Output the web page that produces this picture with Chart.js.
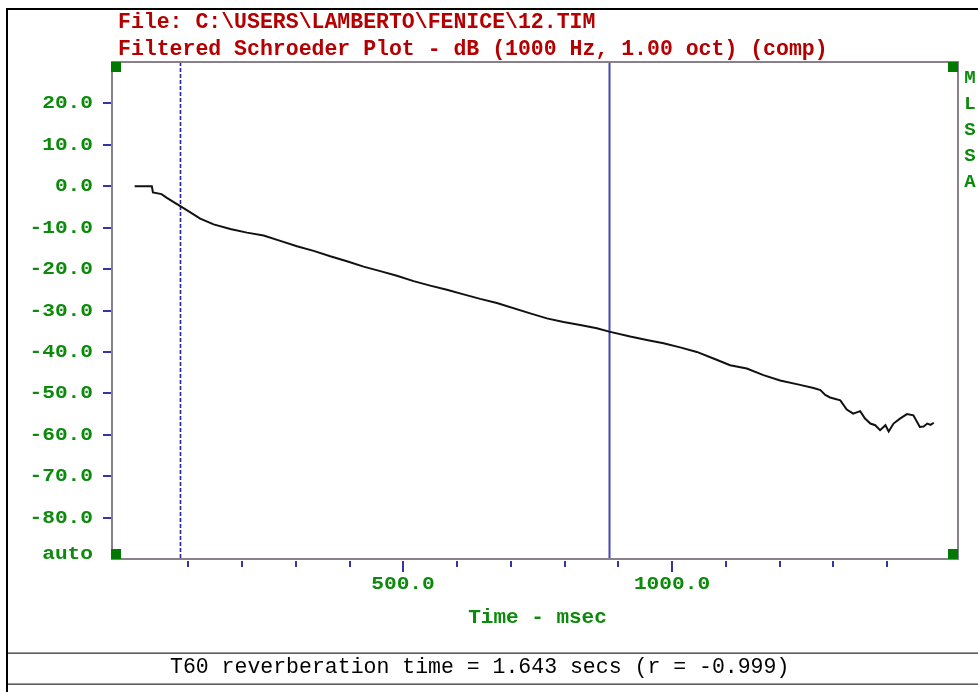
<!DOCTYPE html>
<html>
<head>
<meta charset="utf-8">
<script src="https://cdn.jsdelivr.net/npm/chart.js@4"></script>
<style>
html,body{margin:0;padding:0;background:#fff;}
#wrap{position:relative;width:978px;height:692px;}
canvas{display:block;}
</style>
</head>
<body>
<div id="wrap"><canvas id="c" width="978" height="692"></canvas></div>
<script>
// ---- data ----
const timeMs = [0,32,34,50,60,75,85,100,122,147,178,209,240,271,302,333,364,395,426,457,488,519,550,581,612,643,674,736,767,798,829,860,883,922,953,984,1015,1046,1077,1108,1139,1170,1201,1236,1263,1276,1285,1294,1313,1325,1337,1350,1359,1369,1378,1387,1397,1403,1412,1424,1437,1449,1461,1468,1475,1481,1487];
const levelDb = [0,0,-1.5,-1.9,-2.8,-4.0,-4.8,-6.0,-7.8,-9.2,-10.3,-11.2,-11.9,-13.2,-14.5,-15.6,-16.9,-18.1,-19.4,-20.5,-21.6,-22.9,-24.0,-25.0,-26.1,-27.2,-28.2,-30.7,-31.9,-32.8,-33.5,-34.3,-35.1,-36.3,-37.1,-37.9,-38.9,-40.0,-41.6,-43.2,-44.0,-45.6,-46.9,-47.9,-48.7,-49.2,-50.4,-51.0,-51.7,-53.9,-54.9,-54.3,-56.1,-57.3,-57.7,-58.9,-57.7,-59.2,-57.3,-56.1,-55.0,-55.3,-58.1,-58.0,-57.3,-57.6,-57.1];
const markerTimes = [84.5, 883];          // dashed cursor, solid cursor
const yTickValues = [20,10,0,-10,-20,-30,-40,-50,-60,-70,-80,-90];
const yTickLabels = ['20.0','10.0','0.0','-10.0','-20.0','-30.0','-40.0','-50.0','-60.0','-70.0','-80.0','auto'];
const xTickValues = [100,200,300,400,500,600,700,800,900,1000,1100,1200,1300,1400];
const xMajorLabels = {500:'500.0', 1000:'1000.0'};
const titleLines = ['File: C:\\USERS\\LAMBERTO\\FENICE\\12.TIM', 'Filtered Schroeder Plot - dB (1000 Hz, 1.00 oct) (comp)'];
const xTitle = 'Time - msec';
const sideLabel = ['M','L','S','S','A'];
const footerText = 'T60 reverberation time = 1.643 secs (r = -0.999)';

const GREEN = '#0b8a0b';
const TICKC = '#3434a8';

function stretchText(ctx, text, x, y, align, sx){
  ctx.save();
  ctx.translate(x, y);
  ctx.scale(sx, 1);
  ctx.textAlign = align;
  ctx.fillText(text, 0, 0);
  ctx.restore();
}

const decor = {
  id: 'decor',
  beforeDatasetsDraw(chart){
    const ctx = chart.ctx, a = chart.chartArea, xs = chart.scales.x;
    ctx.save();
    markerTimes.forEach((t, i) => {
      const px = Math.round(xs.getPixelForValue(t)) + 0.5;
      ctx.beginPath();
      if (i === 0){ ctx.setLineDash([4,2]); ctx.strokeStyle = '#2424a0'; ctx.lineWidth = 1.6; }
      else { ctx.setLineDash([]); ctx.strokeStyle = '#4646b6'; ctx.lineWidth = 2; }
      ctx.moveTo(px, a.top); ctx.lineTo(px, a.bottom); ctx.stroke();
    });
    ctx.restore();
  },
  afterDraw(chart){
    const ctx = chart.ctx, a = chart.chartArea, xs = chart.scales.x, ys = chart.scales.y;
    ctx.save();
    ctx.setLineDash([]);
    // outer window frame
    ctx.fillStyle = '#000';
    ctx.fillRect(6, 8, 2, 692-8);
    ctx.fillRect(6, 8, 978-6, 2);
    // footer separators
    ctx.fillStyle = '#9a9a9a'; ctx.fillRect(8, 652, 970, 1);
    ctx.fillStyle = '#5e5e5e'; ctx.fillRect(8, 653, 970, 1);
    ctx.fillStyle = '#9a9a9a'; ctx.fillRect(8, 683, 970, 1);
    ctx.fillStyle = '#5e5e5e'; ctx.fillRect(8, 684, 970, 1);
    // plot frame
    ctx.strokeStyle = '#8a808c'; ctx.lineWidth = 2;
    ctx.strokeRect(a.left+1, a.top, a.right-a.left-1, a.bottom-a.top);
    // corner squares
    ctx.fillStyle = '#007a00';
    const s = 10;
    ctx.fillRect(a.left, a.top, s, s);
    ctx.fillRect(a.right-s, a.top, s, s);
    ctx.fillRect(a.left, a.bottom-s, s, s);
    ctx.fillRect(a.right-s, a.bottom-s, s, s);
    // y ticks + labels
    ctx.font = 'bold 17.5px "Liberation Mono"';
    ctx.textBaseline = 'middle';
    ctx.fillStyle = GREEN;
    yTickValues.forEach((v, i) => {
      const py = Math.round(ys.getPixelForValue(v));
      if (v > -90){
        ctx.fillStyle = TICKC;
        ctx.fillRect(a.left-8, py-1, 8, 2);
        ctx.fillStyle = GREEN;
        stretchText(ctx, yTickLabels[i], 93, py+1, 'right', 1.21);
      } else {
        stretchText(ctx, yTickLabels[i], 93, py-4, 'right', 1.21);
      }
    });
    // x ticks + labels
    xTickValues.forEach(v => {
      const px = Math.round(xs.getPixelForValue(v));
      const major = xMajorLabels[v] !== undefined;
      ctx.fillStyle = TICKC;
      ctx.fillRect(px-1, a.bottom+2, 2, major ? 11 : 6);
      if (major){
        ctx.fillStyle = GREEN;
        stretchText(ctx, xMajorLabels[v], px, a.bottom+26, 'center', 1.21);
      }
    });
    // axis title
    ctx.fillStyle = GREEN;
    ctx.font = 'bold 21px "Liberation Mono"';
    ctx.textBaseline = 'alphabetic';
    ctx.textAlign = 'center';
    ctx.fillText(xTitle, (a.left+a.right)/2 + 3, 623);
    // side label
    ctx.font = 'bold 19px "Liberation Mono"';
    ctx.textBaseline = 'middle';
    sideLabel.forEach((ch, i) => ctx.fillText(ch, 970, 78 + i*26));
    // titles
    ctx.fillStyle = '#b40000';
    ctx.font = 'bold 21.5px "Liberation Mono"';
    ctx.textAlign = 'left';
    ctx.textBaseline = 'alphabetic';
    ctx.fillText(titleLines[0], 118, 28);
    ctx.fillText(titleLines[1], 118, 54.5);
    // footer
    ctx.fillStyle = '#000';
    ctx.font = '21.5px "Liberation Mono"';
    ctx.fillText(footerText, 170, 673);
    ctx.restore();
  }
};

new Chart(document.getElementById('c'), {
  type: 'line',
  data: {
    datasets: [{
      data: timeMs.map((t, i) => ({x: t, y: levelDb[i]})),
      borderColor: '#111',
      borderWidth: 2,
      pointRadius: 0,
      tension: 0,
      fill: false
    }]
  },
  options: {
    responsive: false,
    animation: false,
    devicePixelRatio: 1,
    layout: { padding: { left: 111, right: 20, top: 62, bottom: 133 } },
    plugins: { legend: { display: false }, tooltip: { enabled: false } },
    scales: {
      x: { type: 'linear', min: -44, max: 1532, display: false },
      y: { type: 'linear', min: -90, max: 30, display: false }
    }
  },
  plugins: [decor]
});
</script>
</body>
</html>
